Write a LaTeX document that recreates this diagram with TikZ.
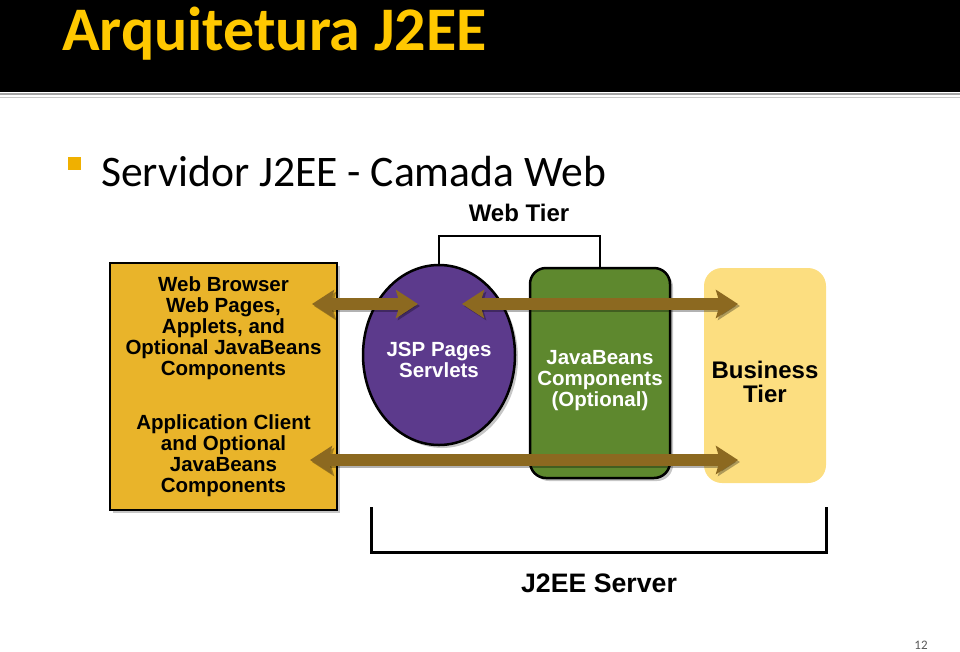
\documentclass[tikz,border=0pt]{standalone}
\usepackage{fontspec}
\setmainfont{Liberation Sans}
\newfontfamily\calibri{Carlito}
\usetikzlibrary{shapes.geometric,arrows.meta,shadows}

\definecolor{titreJaune}{RGB}{255,200,0}
\definecolor{puceOr}{RGB}{240,176,0}
\definecolor{boiteOr}{RGB}{233,180,42}
\definecolor{violet}{RGB}{92,58,140}
\definecolor{vertOlive}{RGB}{94,136,46}
\definecolor{brunFleche}{RGB}{140,105,32}
\definecolor{jaunePale}{RGB}{252,222,128}

\begin{document}
\begin{tikzpicture}[x=1pt, y=-1pt,
  ombre/.style={drop shadow={shadow xshift=3pt, shadow yshift=-3pt, opacity=.45}},
  texte/.style={font=\bfseries\fontsize{20.5}{21}\selectfont, align=center, inner sep=0pt},
  grand/.style={font=\bfseries\fontsize{24}{24}\selectfont, align=center, inner sep=0pt},
  fleche/.style={line width=12pt, brunFleche,
    {Stealth[length=22pt, width=28pt, inset=4pt]}-{Stealth[length=22pt, width=28pt, inset=4pt]}},
  ombrefleche/.style={fleche, black, opacity=.3, transform canvas={shift={(2pt,-2pt)}}}]

\useasboundingbox (0,0) rectangle (960,651);

% Bandeau
\fill[black] (0,0) rectangle (960,92);
\draw[gray!70, line width=1.2pt] (0,94) -- (960,94);
\draw[gray!45, line width=1.2pt] (0,97.5) -- (960,97.5);
\node[anchor=base west, inner sep=0pt, text=titreJaune,
  font=\calibri\bfseries\fontsize{62}{62}\selectfont] (titre) at (62,50) {Arquitetura J2EE};

% Sous-titre
\fill[puceOr] (68,157) rectangle (81,170);
\node[anchor=base west, inner sep=0pt, text=black,
  font=\calibri\fontsize{43.6}{44}\selectfont] (soustitre) at (101,186) {Servidor J2EE - Camada Web};

% Boites
\node[texte, draw=black, line width=2.5pt, fill=boiteOr, ombre,
  minimum width=227pt, minimum height=247pt] (navig) at (223.5,386.5)
  {Web Browser\\Web Pages,\\Applets, and\\Optional JavaBeans\\Components\\[33pt]
   Application Client\\and Optional\\JavaBeans\\Components};
\node[ellipse, draw=black, line width=2.5pt, fill=violet, ombre,
  minimum width=152pt, minimum height=180pt] (jsp) at (439,355) {};
\node[texte, text=white] (jsptxt) at ([yshift=-5pt]jsp.center) {JSP Pages\\Servlets};
\node[rectangle, rounded corners=16pt, draw=black, line width=2.5pt, fill=vertOlive, ombre,
  minimum width=140pt, minimum height=210pt] (beans) at (600,373) {};
\node[texte, text=white] (beanstxt) at ([yshift=-8pt]beans.center) {JavaBeans\\Components\\(Optional)};
\node[rectangle, rounded corners=18pt, fill=jaunePale,
  minimum width=122pt, minimum height=215pt] (metier) at (765,375.5) {};
\node[grand] (metiertxt) at ([yshift=-6pt]metier.center) {Business\\Tier};

% Fleches
\coordinate (a1) at (312,304);
\coordinate (a2) at (418,304);
\coordinate (b1) at (462,304);
\coordinate (b2) at (738,304);
\coordinate (c1) at (310,460);
\coordinate (c2) at (738,460);
\foreach \d/\f in {a1/a2, b1/b2, c1/c2}{
  \draw[ombrefleche] (\d) -- (\f);
  \draw[fleche] (\d) -- (\f);
}

% Accolades
\node[grand] (webtier) at (519,213) {Web Tier};
\draw[line width=2.5pt] (jsp.north) -- ++(0,-28) -| (beans.north);
\coordinate (s1) at (371,507);
\coordinate (s2) at (826,507);
\draw[line width=3pt] (s1) -- ++(0,45) -| (s2);
\node[font=\bfseries\fontsize{26.7}{27}\selectfont, inner sep=0pt] (serveur) at (599,583) {J2EE Server};

% Numero
\node[font=\calibri\fontsize{13}{13}\selectfont, text=black!65, inner sep=0pt] (num) at (921,645) {12};

\end{tikzpicture}
\end{document}
